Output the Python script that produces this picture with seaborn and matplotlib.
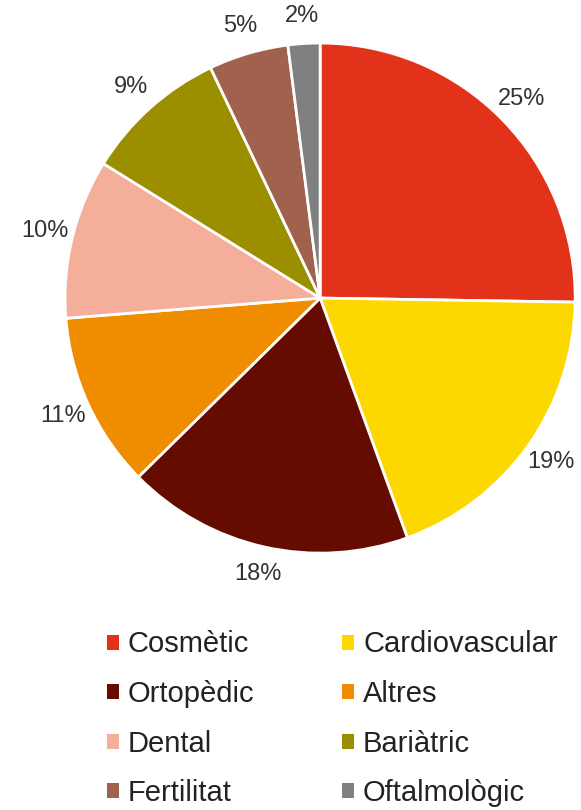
import matplotlib

matplotlib.use("Agg")
import matplotlib.pyplot as plt
from matplotlib.patches import Patch
import seaborn as sns

sns.set_theme(style="white")
plt.rcParams["font.family"] = ["Liberation Sans", "DejaVu Sans"]

categories = ["Cosmètic", "Cardiovascular", "Ortopèdic", "Altres",
              "Dental", "Bariàtric", "Fertilitat", "Oftalmològic"]
shares = [25, 19, 18, 11, 10, 9, 5, 2]
colors = ["#E3321A", "#FDD800", "#650B00", "#EF8C00",
          "#F4AE9A", "#9B8F00", "#A0614D", "#808080"]

fig = plt.figure(figsize=(5.81, 8.10), dpi=100)
ax = fig.add_axes([0.112, 0.317, 0.878, 0.630])
wedges, _, autotexts = ax.pie(
    shares, colors=colors, startangle=90, counterclock=False,
    autopct=lambda p: f"{p:.0f}%", pctdistance=1.11,
    wedgeprops=dict(edgecolor="white", linewidth=2),
    textprops=dict(fontsize=17, color="#333333"),
)
for t, v in zip(autotexts, shares):
    t.set_text(f"{v}%")
ax.set_xlim(-1, 1)
ax.set_ylim(-1, 1)
ax.set_aspect("equal")

# legend in row-major order (two columns)
order = [0, 2, 4, 6, 1, 3, 5, 7]
handles = [Patch(facecolor=colors[i], edgecolor="none") for i in order]
labels = [categories[i] for i in order]
fig.legend(handles, labels, ncol=2, loc="lower left",
           bbox_to_anchor=(0.164, -0.011), frameon=False,
           fontsize=21, handlelength=0.41, handleheight=0.41,
           handletextpad=0.31, columnspacing=3.0, labelspacing=0.74,
           borderaxespad=0, labelcolor="#222222")

fig.savefig("out.png", dpi=100)
